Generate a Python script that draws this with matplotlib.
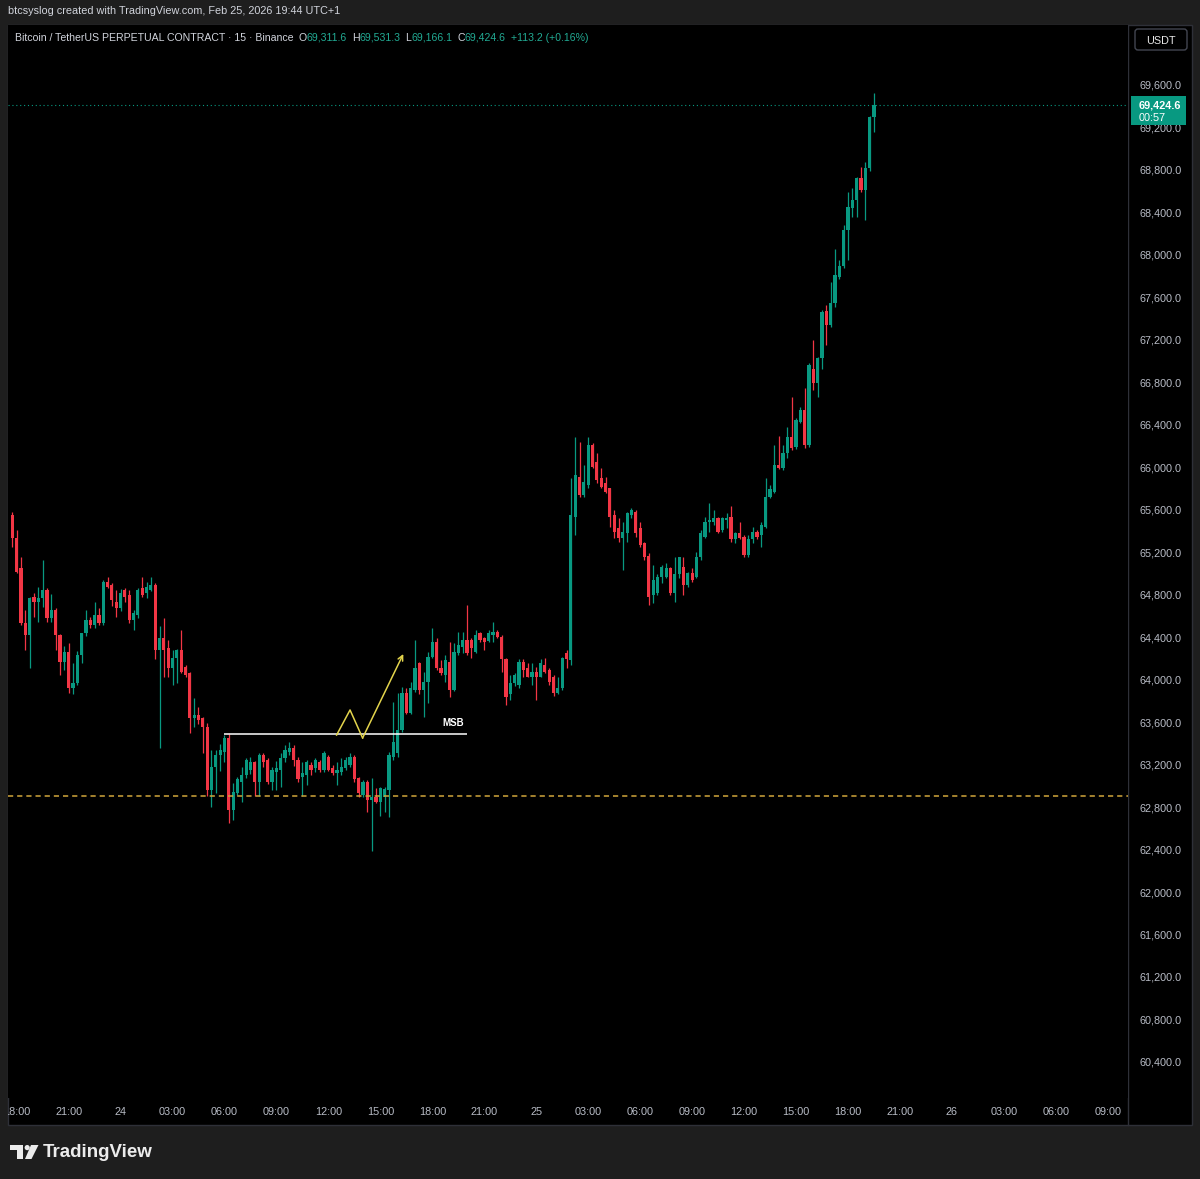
# coding: utf-8
import numpy as np
import pandas as pd
import matplotlib
matplotlib.use('Agg')
import matplotlib.pyplot as plt
from matplotlib.patches import Rectangle, FancyBboxPatch, Polygon, Circle

plt.rcParams['font.family'] = ['Liberation Sans', 'DejaVu Sans']

# BTCUSDT perpetual, 15 min candles, first candle Feb 23 17:45 (UTC+1)
opens = [65560, 65340, 65060, 64540, 64430, 64790, 64740, 64780, 64850, 64590,
         64670, 64430, 64180, 64270, 63930, 63980, 64240, 64450, 64570, 64520,
         64620, 64540, 64930, 64900, 64740, 64680, 64850, 64810, 64570, 64620,
         64870, 64830, 64850, 64900, 64290, 64400, 64310, 64120, 64210, 64290,
         64130, 64070, 63650, 63680, 63650, 63560, 62970, 63190, 63300, 63330,
         63460, 62780, 62940, 63050, 63110, 63160, 63230, 63050, 63300, 63250,
         63050, 63140, 63160, 63270, 63330, 63370, 63250, 63090, 63110, 63210,
         63180, 63230, 63160, 63280, 63180, 63130, 63140, 63180, 63210, 63280,
         63080, 62920, 63050, 62880, 62900, 62860, 62900, 62970, 63280, 63320,
         63540, 63880, 63700, 63910, 64170, 63910, 63990, 64220, 64360, 64120,
         64050, 64180, 63910, 64260, 64320, 64380, 64380, 64270, 64450, 64400,
         64370, 64430, 64460, 64410, 64200, 63870, 63980, 63960, 64180, 64120,
         64030, 64080, 64030, 64150, 64100, 64030, 63880, 63930, 64260, 64190,
         65540, 65920, 65750, 65840, 66220, 66060, 65910, 65860, 65810, 65560,
         65440, 65340, 65390, 65560, 65590, 65440, 65300, 65170, 64810, 64830,
         64980, 64980, 65060, 64830, 65000, 65070, 64900, 65010, 64980, 65160,
         65350, 65490, 65490, 65530, 65420, 65510, 65540, 65330, 65390, 65350,
         65180, 65330, 65400, 65370, 65450, 65730, 65780, 66030, 66000, 66140,
         66290, 66200, 66440, 66550, 66220, 66930, 66800, 67040, 67480, 67350,
         67560, 67800, 67900, 68240, 68450, 68530, 68730, 68620, 68830, 69311.6]
highs = [65590, 65420, 65160, 64670, 64790, 64830, 64880, 65140, 64870, 64820,
         64680, 64440, 64330, 64350, 64170, 64280, 64450, 64670, 64600, 64740,
         64680, 64950, 64980, 64920, 64850, 64860, 64870, 64850, 64670, 64870,
         64980, 64930, 64980, 64920, 64510, 64590, 64380, 64290, 64300, 64480,
         64150, 64080, 63840, 63750, 63660, 63600, 63350, 63350, 63400, 63490,
         63500, 63040, 63090, 63190, 63270, 63280, 63240, 63320, 63320, 63270,
         63190, 63240, 63320, 63390, 63420, 63390, 63280, 63230, 63250, 63230,
         63270, 63250, 63340, 63300, 63210, 63230, 63270, 63280, 63320, 63300,
         63090, 63060, 63060, 63080, 62990, 63000, 63000, 63330, 63800, 63880,
         63940, 63930, 63990, 64380, 64180, 64080, 64270, 64500, 64400, 64190,
         64240, 64360, 64350, 64460, 64460, 64710, 64400, 64480, 64460, 64410,
         64480, 64550, 64480, 64430, 64210, 64050, 64070, 64200, 64200, 64170,
         64170, 64130, 64200, 64210, 64120, 64050, 64030, 64220, 64290, 65910,
         66290, 66250, 66030, 66290, 66240, 66140, 66000, 65920, 65810, 65610,
         65530, 65490, 65590, 65630, 65610, 65490, 65310, 65200, 65090, 65000,
         65090, 65110, 65070, 65160, 65160, 65160, 65020, 65060, 65210, 65420,
         65540, 65670, 65610, 65540, 65540, 65580, 65640, 65400, 65490, 65370,
         65370, 65450, 65420, 65490, 65910, 65840, 66220, 66300, 66220, 66390,
         66670, 66470, 66580, 66760, 66990, 67210, 67050, 67490, 67540, 67750,
         68060, 67960, 68290, 68600, 68640, 68740, 68840, 68880, 69320, 69531.3]
lows = [65260, 65010, 64520, 64290, 64120, 64600, 64550, 64690, 64550, 64550,
        64290, 64050, 64100, 63880, 63870, 63960, 64170, 64420, 64500, 64500,
        64520, 64520, 64870, 64700, 64600, 64660, 64740, 64540, 64480, 64590,
        64790, 64780, 64840, 64200, 63370, 64030, 64030, 63960, 63980, 64070,
        64030, 63510, 63560, 63590, 63320, 62910, 62810, 62940, 63150, 63230,
        62660, 62690, 62920, 62860, 63080, 63120, 62910, 62910, 63190, 63030,
        62970, 62970, 63000, 63230, 63300, 63200, 63050, 62910, 63020, 63110,
        63140, 63140, 63140, 63150, 63110, 63020, 63110, 63160, 63190, 63050,
        62900, 62900, 62760, 62400, 62850, 62730, 62760, 62720, 63250, 63280,
        63520, 63690, 63690, 63890, 63870, 63660, 63790, 64210, 64100, 64050,
        63990, 63850, 63900, 64240, 64260, 64240, 64210, 64260, 64360, 64290,
        64360, 64360, 64400, 64080, 63770, 63820, 63950, 63930, 64030, 64030,
        63960, 63820, 64030, 64070, 63960, 63860, 63870, 63910, 64120, 64150,
        65370, 65730, 65730, 65810, 66000, 65860, 65810, 65770, 65450, 65340,
        65310, 65040, 65310, 65530, 65350, 65260, 65140, 64710, 64730, 64810,
        64920, 64970, 64810, 64740, 64970, 64810, 64880, 64930, 64970, 65140,
        65340, 65400, 65470, 65390, 65400, 65440, 65310, 65300, 65330, 65160,
        65160, 65300, 65330, 65260, 65440, 65720, 65770, 65990, 65980, 66100,
        66170, 66180, 66430, 66190, 66200, 66740, 66670, 66930, 67160, 67330,
        67520, 67780, 67890, 67960, 68370, 68370, 68600, 68340, 68800, 69166.1]
closes = [65340, 65020, 64540, 64430, 64780, 64740, 64780, 64850, 64590, 64670,
          64430, 64180, 64270, 63930, 63980, 64240, 64450, 64570, 64520, 64620,
          64540, 64930, 64880, 64760, 64680, 64830, 64790, 64570, 64640, 64850,
          64810, 64880, 64900, 64290, 64400, 64290, 64120, 64210, 64290, 64080,
          64050, 63650, 63680, 63630, 63560, 62970, 63190, 63300, 63350, 63460,
          62780, 62950, 63070, 63110, 63250, 63230, 63050, 63300, 63230, 63050,
          63160, 63180, 63270, 63350, 63370, 63250, 63070, 63130, 63230, 63160,
          63250, 63160, 63320, 63160, 63130, 63160, 63190, 63250, 63280, 63070,
          62940, 63050, 62880, 62900, 62860, 62990, 62980, 63300, 63420, 63540,
          63880, 63700, 63930, 64120, 63910, 63990, 64220, 64360, 64120, 64070,
          64190, 63910, 64270, 64340, 64380, 64260, 64310, 64430, 64380, 64360,
          64450, 64460, 64410, 64200, 63850, 63980, 64050, 64180, 64100, 64030,
          64080, 64030, 64170, 64080, 63990, 63880, 63930, 64210, 64200, 65560,
          65940, 65750, 65870, 66220, 66010, 65890, 65820, 65780, 65540, 65400,
          65340, 65400, 65580, 65610, 65390, 65280, 65160, 64790, 64950, 64980,
          65070, 65060, 64830, 65000, 65160, 64900, 65010, 64950, 65160, 65390,
          65490, 65510, 65530, 65400, 65530, 65530, 65330, 65390, 65340, 65180,
          65330, 65400, 65350, 65470, 65730, 65800, 66030, 66000, 66140, 66290,
          66190, 66450, 66550, 66220, 66970, 66800, 67040, 67470, 67350, 67560,
          67820, 67900, 68240, 68460, 68530, 68730, 68620, 68830, 69311.4, 69424.6]

first_candle = pd.Timestamp('2026-02-23 17:45')
time_ticks = pd.date_range('2026-02-23 18:00', '2026-02-26 09:00', freq='3h')
price_ticks = np.arange(60400, 69601, 400)

level_line = 62915          # dashed orange level
msb_level = 63500           # market structure break
msb_span = (48.9, 104.9)    # candle index range of the MSB line
zigzag_idx = [74.9, 78.0, 80.9, 90.3]
zigzag_px = [63488, 63724, 63460, 64251]

W, H = 1200, 1179
UP, DOWN = '#089981', '#f23645'
LABEL = '#b8bcc6'
FS = 7.8


def box(x0, y0, x1, y1):
    return [x0 / W, 1 - y1 / H, (x1 - x0) / W, (y1 - y0) / H]


o = np.array(opens)
h = np.array(highs)
l = np.array(lows)
c = np.array(closes)
idx = np.arange(len(o))
xlim = ((8 - 12.3) / 4.33, (1128 - 12.3) / 4.33)
ylim = (60070, 70174)

fig = plt.figure(figsize=(W / 100, H / 100), dpi=100, facecolor='#1e1e1e')

bg = fig.add_axes([0, 0, 1, 1], zorder=0)
bg.set_xlim(0, W)
bg.set_ylim(H, 0)
bg.axis('off')
bg.add_patch(Rectangle((8, 25), 1184, 1100, fc='black', ec='#2e3038', lw=1))
bg.plot([1128, 1128], [25, 1125], color='#2e3038', lw=1)

# main chart
ax = fig.add_axes(box(8, 25, 1128, 1098), zorder=1)
ax.set_facecolor('black')
for s in ax.spines.values():
    s.set_visible(False)
ax.set_xticks([])
ax.set_yticks([])
ax.set_xlim(*xlim)
ax.set_ylim(*ylim)

cols = np.where(c >= o, UP, DOWN)
ax.vlines(idx, l, h, colors=cols, lw=0.9)
ax.bar(idx, np.maximum(np.abs(c - o), 10), 0.74, bottom=np.minimum(o, c), color=cols, lw=0)

ax.axhline(level_line, color='#d1a73b', lw=1.1, ls=(0, (3.4, 2.6)))
ax.axhline(c[-1], color=UP, lw=0.8, ls=(0, (1, 2.5)))

ax.hlines(msb_level, *msb_span, color='white', lw=1.1)
ax.text(101.8, 63600, 'MSB', color='white', fontsize=7, fontweight='bold',
        ha='center', va='center')
ax.plot(zigzag_idx[:3], zigzag_px[:3], color='#e3d44c', lw=1.1)
ax.annotate('', xy=(zigzag_idx[3], zigzag_px[3]), xytext=(zigzag_idx[2], zigzag_px[2]),
            arrowprops=dict(arrowstyle='->', color='#e3d44c', lw=1.1,
                            shrinkA=0, shrinkB=0, mutation_scale=9))

# price scale
pax = fig.add_axes(box(1128, 25, 1192, 1098), zorder=1)
pax.axis('off')
pax.set_ylim(*ylim)
pax.set_xlim(0, 64)
for p in price_ticks:
    pax.text(11, p, f'{p:,.1f}', color=LABEL, fontsize=FS, va='center', ha='left')

# time scale
tax = fig.add_axes(box(8, 1098, 1128, 1125), zorder=1)
tax.axis('off')
tax.set_xlim(*xlim)
tax.set_ylim(0, 1)
for t in time_ticks:
    pos = (t - first_candle) / pd.Timedelta(minutes=15)
    if t.hour == 0:
        lab = str(t.day)
    else:
        lab = t.strftime('%H:%M')
    tax.text(pos, 0.48, lab, color=LABEL, fontsize=FS, ha='center', va='center', clip_on=True)

# overlay: header, legend, labels, footer
ov = fig.add_axes([0, 0, 1, 1], zorder=3)
ov.set_xlim(0, W)
ov.set_ylim(H, 0)
ov.axis('off')

ov.text(8, 14.5, 'btcsyslog created with TradingView.com, Feb 25, 2026 19:44 UTC+1',
        color='#d1d4dc', fontsize=FS, va='baseline', ha='left')

renderer = fig.canvas.get_renderer()
chg = c[-1] - c[-2]
pieces = [('Bitcoin / TetherUS PERPETUAL CONTRACT \u00b7 15 \u00b7 Binance', '#d1d4dc', 5),
          ('O', '#d1d4dc', 0), (f'{o[-1]:,.1f}', '#22ab94', 5),
          ('H', '#d1d4dc', 0), (f'{h[-1]:,.1f}', '#22ab94', 5),
          ('L', '#d1d4dc', 0), (f'{l[-1]:,.1f}', '#22ab94', 5),
          ('C', '#d1d4dc', 0), (f'{c[-1]:,.1f}', '#22ab94', 5),
          (f'{chg:+.1f} ({chg / c[-2] * 100:+.2f}%)', '#22ab94', 0)]
x = 15
for s, col, gap in pieces:
    t = ov.text(x, 41, s, color=col, fontsize=7.6, va='baseline', ha='left')
    x += t.get_window_extent(renderer).width + gap

ov.add_patch(FancyBboxPatch((1135, 29), 52, 21, boxstyle='round,pad=0,rounding_size=3',
                            fc='black', ec='#434651', lw=1))
ov.text(1161, 43.5, 'USDT', color='#e8e8e8', fontsize=FS, ha='center', va='baseline')

ov.add_patch(Rectangle((1131, 96), 55, 29, fc=UP, lw=0))
ov.text(1139, 108, f'{c[-1]:,.1f}', color='white', fontsize=FS, fontweight='bold',
        va='baseline', ha='left')
ov.text(1139, 121, '00:57', color='white', fontsize=FS, va='baseline', ha='left')

# TradingView logo
logo = '#ececec'
ov.add_patch(Rectangle((10, 1145), 13, 5, fc=logo, lw=0))
ov.add_patch(Rectangle((17, 1145), 6, 14, fc=logo, lw=0))
ov.add_patch(Circle((27.2, 1147.6), 2.6, fc=logo, lw=0))
ov.add_patch(Polygon([(31, 1145), (38.5, 1145), (31.5, 1159), (25, 1159)], fc=logo, lw=0))
ov.text(43, 1152.5, 'TradingView', color=logo, fontsize=13.5, fontweight='bold',
        va='center', ha='left')

fig.savefig('out.png', dpi=100, facecolor=fig.get_facecolor())
